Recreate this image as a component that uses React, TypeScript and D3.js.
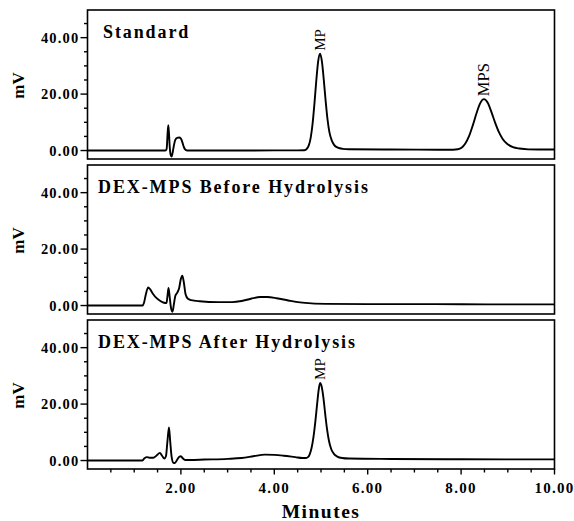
import React from "react";
import * as d3 from "d3";

// ---- data (minutes, mV) ----
const standardTrace: [number, number][] = [
  [0, 0], [1.0, 0], [1.66, 0], [1.69, 0.3], [1.70, 1.5], [1.715, 6], [1.73, 9.0], [1.745, 6], [1.76, 1.5],
  [1.78, -1.5], [1.80, -2.1], [1.82, -1.0], [1.85, 1.8], [1.88, 3.8], [1.92, 4.5], [1.96, 4.6], [2.0, 4.2],
  [2.03, 3.0], [2.06, 1.4], [2.09, 0.4], [2.13, 0], [3.0, 0], [4.0, 0.05], [4.5, 0.05], [4.64, 0.1],
  [4.70, 0.7], [4.74, 1.9], [4.78, 4.6], [4.82, 9.5], [4.86, 16.7], [4.90, 24.9], [4.94, 31.7], [4.98, 34.3],
  [5.02, 31.5], [5.06, 25.0], [5.10, 17.5], [5.14, 11.0], [5.18, 6.5], [5.23, 3.6], [5.28, 2.0], [5.36, 1.0],
  [5.46, 0.6], [5.6, 0.45], [6.5, 0.35], [7.5, 0.3], [7.83, 0.3], [7.93, 0.45], [8.01, 1.0], [8.09, 2.5],
  [8.17, 5.1], [8.25, 8.9], [8.33, 13.2], [8.41, 16.8], [8.49, 18.2], [8.57, 16.9], [8.65, 13.6], [8.73, 9.8],
  [8.81, 6.5], [8.89, 4.1], [8.99, 2.3], [9.11, 1.2], [9.25, 0.7], [9.44, 0.4], [10, 0.35],
];

const beforeTrace: [number, number][] = [
  [0, 0], [1.0, 0], [1.18, 0], [1.21, 1.0], [1.25, 4.0], [1.30, 6.4], [1.34, 5.8], [1.40, 4.2], [1.48, 2.6],
  [1.56, 1.6], [1.64, 1.0], [1.69, 0.9], [1.71, 3.0], [1.735, 6.2], [1.76, 3.0], [1.79, -1.0], [1.82, -2.2],
  [1.85, 0.5], [1.88, 3.4], [1.92, 4.5], [1.96, 6.0], [2.0, 9.5], [2.03, 10.6], [2.06, 8.5], [2.10, 4.0],
  [2.15, 2.4], [2.22, 1.9], [2.4, 1.5], [2.8, 1.2], [3.1, 1.2], [3.3, 1.6], [3.5, 2.4], [3.7, 3.0],
  [3.85, 3.0], [4.05, 2.6], [4.3, 1.8], [4.55, 1.1], [4.8, 0.75], [5.1, 0.6], [6.0, 0.5], [7.0, 0.5],
  [8.0, 0.45], [9.0, 0.4], [10, 0.4],
];

const afterTrace: [number, number][] = [
  [0, 0], [1.0, 0], [1.17, 0], [1.22, 0.8], [1.27, 1.2], [1.33, 1.0], [1.41, 1.0], [1.48, 1.8], [1.55, 2.7],
  [1.60, 1.6], [1.645, 0.7], [1.68, 1.5], [1.71, 6.5], [1.745, 11.7], [1.77, 7.0], [1.80, 1.5], [1.84, -0.8],
  [1.87, -0.9], [1.92, 0.3], [1.97, 1.4], [2.0, 1.5], [2.04, 0.8], [2.09, 0.2], [2.2, 0.2], [2.5, 0.35],
  [3.0, 0.6], [3.3, 0.9], [3.55, 1.5], [3.8, 2.1], [4.0, 2.0], [4.2, 1.7], [4.45, 1.2], [4.6, 0.9],
  [4.68, 0.9], [4.72, 1.2], [4.76, 2.3], [4.80, 4.6], [4.84, 8.5], [4.88, 14.0], [4.92, 20.5], [4.95, 25.0],
  [4.98, 27.5], [5.01, 26.5], [5.05, 22.5], [5.09, 16.5], [5.13, 11.0], [5.17, 7.0], [5.22, 4.0], [5.28, 2.3],
  [5.35, 1.4], [5.45, 0.9], [5.6, 0.7], [6.5, 0.55], [8.0, 0.45], [10, 0.4],
];

const panelTitles = ["Standard", "DEX-MPS Before Hydrolysis", "DEX-MPS After Hydrolysis"];
const panelTraces = [standardTrace, beforeTrace, afterTrace];
const peakLabels: { panel: number; text: string; t: number; v: number; size: number }[] = [
  { panel: 0, text: "MP", t: 4.98, v: 34.3, size: 15 },
  { panel: 0, text: "MPS", t: 8.49, v: 18.2, size: 16.5 },
  { panel: 2, text: "MP", t: 4.98, v: 27.5, size: 15 },
];
const xLabeledTicks = [2, 4, 6, 8, 10];
const yLabeledTicks = [0, 20, 40];

// ---- layout ----
const W = 574;
const H = 521;
const left = 87.5;
const right = 554.5;
const panelTops = [10, 165, 320];
const titleX = [103, 98, 98];
const panelH = 149;
const yDomain: [number, number] = [-3, 49.8];
const serif = "'Liberation Serif', 'Times New Roman', serif";

export default function App() {
  const x = d3.scaleLinear().domain([0, 10]).range([left, right]);
  const xTicks = x.ticks(20);
  const fmt = d3.format(".2f");
  const isLabeled = (t: number) => xLabeledTicks.some((v) => Math.abs(v - t) < 1e-9);

  return (
    <svg width={W} height={H} style={{ position: "absolute", left: 0, top: 0, background: "#fff" }}>
      <rect x={0} y={0} width={W} height={H} fill="#fff" />
      {panelTops.map((top, i) => {
        const y = d3.scaleLinear().domain(yDomain).range([top + panelH, top]);
        const yTicks = y.ticks(10).filter((v) => v >= 0);
        const line = d3
          .line<[number, number]>()
          .x((d) => x(d[0]))
          .y((d) => y(d[1]))
          .curve(d3.curveMonotoneX);
        return (
          <g key={i}>
            <path d={line(panelTraces[i]) || ""} fill="none" stroke="#000" strokeWidth={1.9} strokeLinejoin="round" />
            <rect x={left} y={top} width={right - left} height={panelH} fill="none" stroke="#000" strokeWidth={1.6} />
            {yTicks.map((v) => {
              const major = yLabeledTicks.includes(v);
              return (
                <line key={v} x1={left - (major ? 7 : 3.5)} x2={left} y1={y(v)} y2={y(v)} stroke="#000" strokeWidth={1.4} />
              );
            })}
            {yLabeledTicks.map((v) => (
              <text
                key={"l" + v}
                x={left - 8}
                y={y(v) + 5}
                textAnchor="end"
                fontFamily={serif}
                fontWeight="bold"
                fontSize={14.5}
                letterSpacing={1.2}
              >
                {fmt(v)}
              </text>
            ))}
            <text
              transform={`translate(24, ${top + panelH / 2 + 1}) rotate(-90)`}
              textAnchor="middle"
              fontFamily={serif}
              fontWeight="bold"
              fontSize={17}
            >
              mV
            </text>
            <text x={titleX[i]} y={top + 28} fontFamily={serif} fontWeight="bold" fontSize={18} letterSpacing={1.9}>
              {panelTitles[i]}
            </text>
            {peakLabels
              .filter((p) => p.panel === i)
              .map((p) => (
                <text
                  key={p.text}
                  transform={`translate(${x(p.t)}, ${y(p.v) - 3}) rotate(-90)`}
                  textAnchor="start"
                  dominantBaseline="central"
                  fontFamily={serif}
                  fontSize={p.size}
                >
                  {p.text}
                </text>
              ))}
            {i === 2 &&
              xTicks
                .filter((t) => t > 0)
                .map((t) => (
                  <line
                    key={"xt" + t}
                    x1={x(t)}
                    x2={x(t)}
                    y1={top + panelH}
                    y2={top + panelH + (isLabeled(t) ? 5.5 : 3.5)}
                    stroke="#000"
                    strokeWidth={1.4}
                  />
                ))}
            {i === 2 &&
              xLabeledTicks.map((t) => (
                <text
                  key={"xl" + t}
                  x={x(t)}
                  y={top + panelH + 24}
                  textAnchor="middle"
                  fontFamily={serif}
                  fontWeight="bold"
                  fontSize={15}
                  letterSpacing={1.3}
                >
                  {fmt(t)}
                </text>
              ))}
          </g>
        );
      })}
      <text
        x={(left + right) / 2}
        y={518}
        textAnchor="middle"
        fontFamily={serif}
        fontWeight="bold"
        fontSize={19.5}
        letterSpacing={1.5}
      >
        Minutes
      </text>
    </svg>
  );
}
